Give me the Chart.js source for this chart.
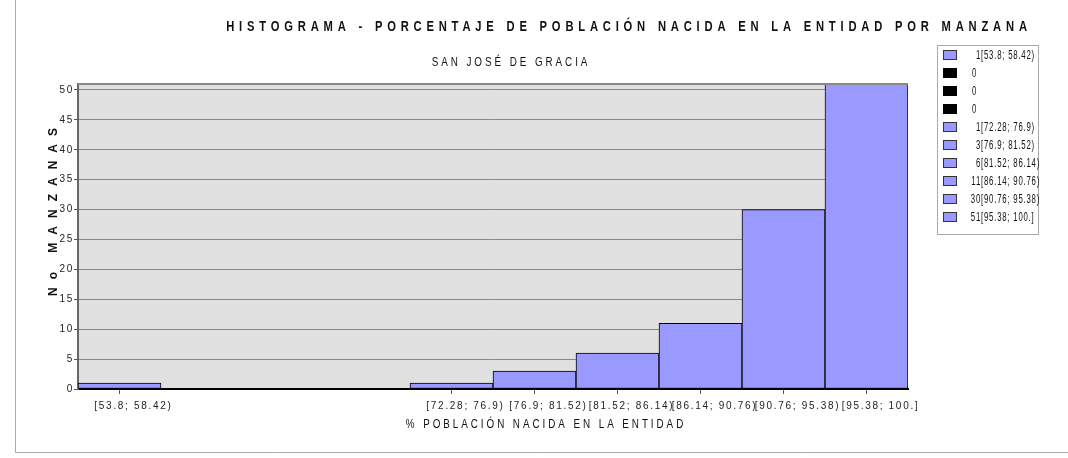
<!DOCTYPE html>
<html>
<head>
<meta charset="utf-8">
<script src="https://cdn.jsdelivr.net/npm/chart.js@4/dist/chart.umd.min.js"></script>
<style>
  html, body { margin: 0; padding: 0; background: #fff; }
  #wrap { position: relative; width: 1068px; height: 458px; }
</style>
</head>
<body>
<div id="wrap"><canvas id="histo" width="1068" height="458"></canvas></div>
<script>
// intervalos (clases) del histograma
const categories = ['[53.8; 58.42)', '', '', '', '[72.28; 76.9)', '[76.9; 81.52)', '[81.52; 86.14)', '[86.14; 90.76)', '[90.76; 95.38)', '[95.38; 100.]']
// numero de manzanas por intervalo
const counts = [1, 0, 0, 0, 1, 3, 6, 11, 30, 51]
const yTicks = [0, 5, 10, 15, 20, 25, 30, 35, 40, 45, 50]

const TITLE = 'HISTOGRAMA - PORCENTAJE DE POBLACIÓN NACIDA EN LA ENTIDAD POR MANZANA'
const SUBTITLE = 'SAN JOSÉ DE GRACIA'
const X_TITLE = '% POBLACIÓN NACIDA EN LA ENTIDAD'
const Y_TITLE = 'No MANZANAS'

const FONT = "'Liberation Sans Narrow', 'Liberation Sans', Arial, sans-serif"
const BAR = '#9999ff'

// texto "angosto": se escala en x para parecerse a la fuente original
function narrowText(ctx, txt, x, y, sx) {
  ctx.save()
  ctx.translate(x, y)
  ctx.scale(sx, 1)
  ctx.fillText(txt, 0, 0)
  ctx.restore()
}

const spacing = {
  id: 'spacing',
  beforeUpdate(chart) { chart.ctx.letterSpacing = '1.7px' },
  beforeDraw(chart) {
    const ctx = chart.ctx
    const a = chart.chartArea
    ctx.letterSpacing = '1.7px'
    ctx.save()
    // marco exterior
    ctx.strokeStyle = '#aaa'
    ctx.lineWidth = 1
    ctx.beginPath()
    ctx.moveTo(15.5, 0)
    ctx.lineTo(15.5, 452.5)
    ctx.lineTo(1068, 452.5)
    ctx.stroke()
    // fondo del area de grafica
    ctx.fillStyle = '#e0e0e0'
    ctx.fillRect(a.left, a.top, a.right - a.left, a.bottom - a.top)
    ctx.restore()
  },
  afterDatasetsDraw(chart) {
    const ctx = chart.ctx
    const a = chart.chartArea
    ctx.save()
    ctx.strokeStyle = '#888'
    ctx.lineWidth = 2
    ctx.beginPath()
    ctx.moveTo(a.left, a.top)
    ctx.lineTo(a.right, a.top)
    ctx.stroke()
    ctx.restore()
  },
  afterDraw(chart) {
    const ctx = chart.ctx
    ctx.save()
    ctx.fillStyle = '#111'
    ctx.textBaseline = 'middle'
    ctx.textAlign = 'center'

    ctx.font = 'bold 14px ' + FONT
    ctx.letterSpacing = '6px'
    narrowText(ctx, TITLE, 629, 27, 0.8)

    ctx.font = '12px ' + FONT
    ctx.letterSpacing = '3.6px'
    narrowText(ctx, SUBTITLE, 511, 63, 0.82)
    narrowText(ctx, X_TITLE, 546, 425, 0.82)

    ctx.translate(54, 208)
    ctx.rotate(-Math.PI / 2)
    ctx.font = 'bold 12px ' + FONT
    ctx.letterSpacing = '8px'
    ctx.fillText(Y_TITLE, 0, 0)
    ctx.restore()

    // leyenda
    ctx.save()
    ctx.strokeStyle = '#aaa'
    ctx.lineWidth = 1
    ctx.strokeRect(937.5, 45.5, 101, 189)
    ctx.font = '12px ' + FONT
    ctx.letterSpacing = '1.2px'
    ctx.textAlign = 'left'
    ctx.textBaseline = 'middle'
    counts.forEach((c, i) => {
      const y = 55 + i * 18
      ctx.fillStyle = c ? BAR : '#000'
      ctx.fillRect(943, y - 5, 14, 10)
      ctx.strokeStyle = c ? '#333' : '#000'
      ctx.strokeRect(943.5, y - 4.5, 13, 9)
      ctx.fillStyle = '#111'
      const txt = c ? String(c) + categories[i] : '0'
      const x = c ? 981 - ctx.measureText(String(c)).width * 0.65 : 972
      narrowText(ctx, txt, x, y + 1, 0.65)
    })
    ctx.restore()
  }
}

new Chart(document.getElementById('histo'), {
  type: 'bar',
  data: {
    labels: categories,
    datasets: [{
      label: 'Manzanas',
      data: counts,
      backgroundColor: BAR,
      borderColor: '#000',
      borderWidth: 1,
      borderSkipped: false,
      categoryPercentage: 1,
      barPercentage: 1,
    }],
  },
  options: {
    responsive: false,
    animation: false,
    layout: { padding: { top: 84, right: 160, bottom: 39, left: 18 } },
    plugins: {
      legend: { display: false },
      title: { display: false },
      tooltip: { enabled: false },
    },
    scales: {
      x: {
        afterFit(s) { s.height = 30 },
        grid: {
          offset: false,
          drawOnChartArea: false,
          tickLength: 5,
          tickColor: (c) => (categories[c.index] ? '#555' : 'rgba(0,0,0,0)'),
        },
        border: { color: '#000', width: 2 },
        ticks: {
          autoSkip: false,
          maxRotation: 0,
          minRotation: 0,
          padding: 6,
          labelOffset: 14,
          color: '#222',
          font: { family: FONT, size: 10 },
        },
      },
      y: {
        min: 0,
        max: Math.max(...counts),
        afterFit(s) { s.width = 60 },
        afterBuildTicks(s) { s.ticks = yTicks.map((v) => ({ value: v })) },
        grid: { color: '#888', lineWidth: 1, tickLength: 4, tickColor: '#555' },
        border: { color: '#666', width: 2 },
        ticks: {
          padding: 0,
          color: '#222',
          font: { family: FONT, size: 10 },
        },
      },
    },
  },
  plugins: [spacing],
})
</script>
</body>
</html>
